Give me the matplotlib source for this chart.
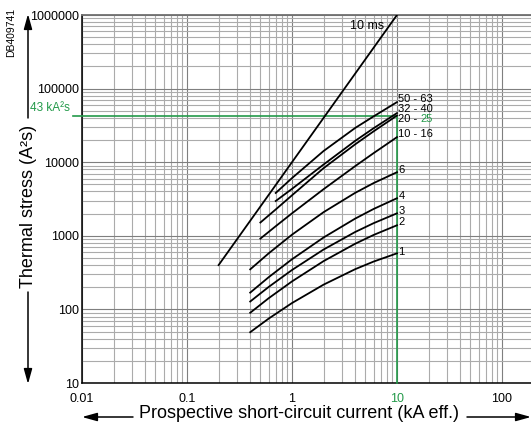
# Thermal stress curves (I2t) versus prospective short-circuit current, log-log chart

import matplotlib.pyplot as plt

plt.rcParams['font.family'] = ['Liberation Sans', 'DejaVu Sans']

green = '#249a4a'

# 10 ms reference line
x_10ms = [0.2, 10]
y_10ms = [400, 1000000]

# curves for the small ratings (1 to 6 A)
x_low = [0.4, 0.6, 1, 2, 4, 6, 10]
y_1 = [49, 75, 122, 217, 352, 447, 578]
y_2 = [90, 142, 240, 453, 780, 1028, 1390]
y_3 = [128, 202, 343, 651, 1127, 1486, 2020]
y_4 = [169, 274, 480, 949, 1713, 2318, 3240]
y_6 = [350, 578, 1036, 2095, 3835, 5210, 7310]

# larger ratings
x_mid = [0.5, 0.7, 1, 2, 4, 6, 10]
y_10_16 = [916, 1350, 2020, 4300, 8850, 13300, 21900]
y_20_25 = [1515, 2280, 3550, 8300, 17500, 26300, 43000]
x_high = [0.7, 1, 2, 4, 6, 10]
y_32_40 = [2970, 4340, 9300, 19500, 29000, 46500]
y_50_63 = [3820, 6080, 14200, 29200, 42000, 65500]

curve_labels = ['1', '2', '3', '4', '6', '10 - 16', '32 - 40', '50 - 63']
curve_label_y = [597, 1530, 2150, 3440, 7780, 24000, 53000, 72000]
label_20_25_y = 38500

limit_stress = 43000   # A2s, 43 kA2s
limit_current = 10     # kA

x_major = [0.01, 0.1, 1, 10, 100]
x_major_labels = ['0.01', '0.1', '1', '10', '100']
x_minor = [m * d for d in [0.01, 0.1, 1, 10] for m in range(2, 10)]
y_major = [10, 100, 1000, 10000, 100000, 1000000]
y_major_labels = ['10', '100', '1000', '10000', '100000', '1000000']
y_minor = [m * d for d in [10, 100, 1000, 10000, 100000] for m in range(2, 10)]

W, H = 531, 426


def fxy(px, py):
    return (px / W, 1 - py / H)


fig = plt.figure(figsize=(W / 100, H / 100), dpi=100)
ax = fig.add_axes([82 / W, 43 / H, 449 / W, 368 / H])
ax.set_xscale('log')
ax.set_yscale('log')
ax.set_xlim(0.01, 189)
ax.set_ylim(10, 1000000)

ax.set_xticks(x_major, x_major_labels)
ax.set_xticks(x_minor, minor=True)
ax.set_yticks(y_major, y_major_labels)
ax.set_yticks(y_minor, minor=True)
ax.grid(which='major', color='#7f7f7f', lw=0.8)
ax.grid(which='minor', color='#ababab', lw=0.8)
ax.set_axisbelow(True)
ax.tick_params(which='both', length=0)
ax.tick_params(axis='x', pad=7, labelsize=9)
ax.tick_params(axis='y', pad=2, labelsize=9)
ax.get_xticklabels()[3].set_color(green)

ax.spines['right'].set_visible(False)
ax.spines['top'].set_color('#707070')
ax.spines['top'].set_linewidth(1.3)
ax.spines['left'].set_linewidth(1.1)
ax.spines['bottom'].set_linewidth(1.1)

# green limit lines
ax.plot([0.0082, limit_current, limit_current], [limit_stress, limit_stress, 10],
        color=green, lw=1.2, clip_on=False, zorder=3)
ax.text(0.0077, limit_stress * 1.04, '43 kA²s', color=green, fontsize=8.5,
        ha='right', va='bottom')

lw = 1.3
ax.plot(x_10ms, y_10ms, color='black', lw=lw, zorder=4)
ax.text(7.6, 700000, '10 ms', fontsize=9, ha='right', va='center')
for ys in [y_1, y_2, y_3, y_4, y_6]:
    ax.plot(x_low, ys, color='black', lw=lw, zorder=4)
ax.plot(x_mid, y_10_16, color='black', lw=lw, zorder=4)
ax.plot(x_mid, y_20_25, color='black', lw=lw, zorder=4)
ax.plot(x_high, y_32_40, color='black', lw=lw, zorder=4)
ax.plot(x_high, y_50_63, color='black', lw=lw, zorder=4)

for lab, y in zip(curve_labels, curve_label_y):
    ax.text(10.3, y, lab, fontsize=8, ha='left', va='center', zorder=5)
t = ax.text(10.3, label_20_25_y, '20 - ', fontsize=8, ha='left', va='center', zorder=5)
ax.annotate('25', xy=(1, 0), xycoords=t, ha='left', va='bottom', fontsize=8,
            color=green, zorder=5)

# axis titles with arrows
fig.text(*fxy(299, 414), 'Prospective short-circuit current (kA eff.)',
         fontsize=13, ha='center', va='center')
fig.text(*fxy(29, 206), 'Thermal stress (A²s)', fontsize=13, rotation=90,
         ha='center', va='center')
fig.text(*fxy(11, 32), 'DB409741', fontsize=7.5, rotation=90, ha='center', va='center')

arrow = dict(arrowstyle='-|>,head_length=0.9,head_width=0.25', color='black',
             lw=1.1, shrinkA=0, shrinkB=0, mutation_scale=10)
ax.annotate('', xy=fxy(82, 417), xytext=fxy(133, 417), xycoords='figure fraction',
            textcoords='figure fraction', arrowprops=arrow)
ax.annotate('', xy=fxy(531, 417), xytext=fxy(467, 417), xycoords='figure fraction',
            textcoords='figure fraction', arrowprops=arrow)
ax.annotate('', xy=fxy(28, 14), xytext=fxy(28, 118), xycoords='figure fraction',
            textcoords='figure fraction', arrowprops=arrow)
ax.annotate('', xy=fxy(28, 384), xytext=fxy(28, 292), xycoords='figure fraction',
            textcoords='figure fraction', arrowprops=arrow)

fig.savefig('out.png', dpi=100)
